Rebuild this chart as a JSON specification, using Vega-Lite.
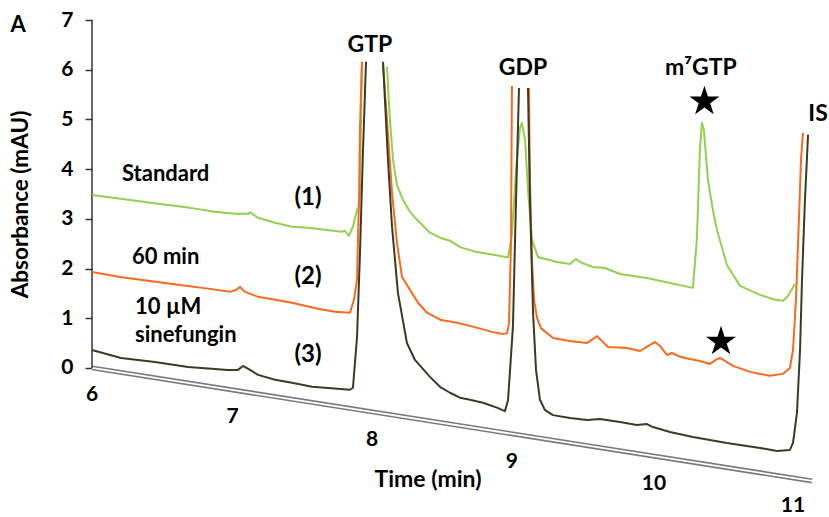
{
  "$schema": "https://vega.github.io/schema/vega-lite/v6.json",
  "width": 728,
  "height": 497,
  "autosize": {"type": "none"},
  "padding": {"left": 92, "top": 20, "right": 9, "bottom": 0},
  "background": "white",
  "config": {"view": {"stroke": null}, "font": "Lato"},
  "datasets": {
    "floor": [{"t": 6, "a": 0}, {"t": 11.121, "a": -2.274}],
    "traces": [
      {"s": "1", "g": "1a", "t": 6.000, "a": 3.48},
      {"s": "1", "g": "1a", "t": 6.270, "a": 3.38},
      {"s": "1", "g": "1a", "t": 6.484, "a": 3.30},
      {"s": "1", "g": "1a", "t": 6.697, "a": 3.22},
      {"s": "1", "g": "1a", "t": 6.875, "a": 3.14},
      {"s": "1", "g": "1a", "t": 7.017, "a": 3.10},
      {"s": "1", "g": "1a", "t": 7.110, "a": 3.10},
      {"s": "1", "g": "1a", "t": 7.124, "a": 3.13},
      {"s": "1", "g": "1a", "t": 7.181, "a": 3.02},
      {"s": "1", "g": "1a", "t": 7.302, "a": 2.92},
      {"s": "1", "g": "1a", "t": 7.422, "a": 2.84},
      {"s": "1", "g": "1a", "t": 7.536, "a": 2.82},
      {"s": "1", "g": "1a", "t": 7.657, "a": 2.78},
      {"s": "1", "g": "1a", "t": 7.778, "a": 2.74},
      {"s": "1", "g": "1a", "t": 7.799, "a": 2.76},
      {"s": "1", "g": "1a", "t": 7.814, "a": 2.70},
      {"s": "1", "g": "1a", "t": 7.828, "a": 2.66},
      {"s": "1", "g": "1a", "t": 7.856, "a": 2.84},
      {"s": "1", "g": "1a", "t": 7.885, "a": 3.18},
      {"s": "1", "g": "1a", "t": 7.899, "a": 3.24},
      {"s": "1", "g": "1a", "t": 7.906, "a": 3.58},
      {"s": "1", "g": "1a", "t": 7.913, "a": 4.99},
      {"s": "1", "g": "1a", "t": 7.920, "a": 6.16},
      {"s": "1", "g": "1b", "t": 8.098, "a": 6.06},
      {"s": "1", "g": "1b", "t": 8.119, "a": 4.99},
      {"s": "1", "g": "1b", "t": 8.141, "a": 4.19},
      {"s": "1", "g": "1b", "t": 8.169, "a": 3.68},
      {"s": "1", "g": "1b", "t": 8.212, "a": 3.38},
      {"s": "1", "g": "1b", "t": 8.262, "a": 3.14},
      {"s": "1", "g": "1b", "t": 8.312, "a": 2.98},
      {"s": "1", "g": "1b", "t": 8.404, "a": 2.72},
      {"s": "1", "g": "1b", "t": 8.475, "a": 2.62},
      {"s": "1", "g": "1b", "t": 8.546, "a": 2.56},
      {"s": "1", "g": "1b", "t": 8.617, "a": 2.43},
      {"s": "1", "g": "1b", "t": 8.738, "a": 2.33},
      {"s": "1", "g": "1b", "t": 8.866, "a": 2.27},
      {"s": "1", "g": "1b", "t": 8.959, "a": 2.22},
      {"s": "1", "g": "1b", "t": 8.987, "a": 2.68},
      {"s": "1", "g": "1b", "t": 9.016, "a": 3.98},
      {"s": "1", "g": "1b", "t": 9.044, "a": 4.83},
      {"s": "1", "g": "1b", "t": 9.058, "a": 4.93},
      {"s": "1", "g": "1b", "t": 9.080, "a": 4.59},
      {"s": "1", "g": "1b", "t": 9.101, "a": 3.58},
      {"s": "1", "g": "1b", "t": 9.129, "a": 2.58},
      {"s": "1", "g": "1b", "t": 9.172, "a": 2.23},
      {"s": "1", "g": "1b", "t": 9.307, "a": 2.13},
      {"s": "1", "g": "1b", "t": 9.400, "a": 2.09},
      {"s": "1", "g": "1b", "t": 9.442, "a": 2.19},
      {"s": "1", "g": "1b", "t": 9.485, "a": 2.11},
      {"s": "1", "g": "1b", "t": 9.563, "a": 2.03},
      {"s": "1", "g": "1b", "t": 9.649, "a": 2.01},
      {"s": "1", "g": "1b", "t": 9.755, "a": 1.89},
      {"s": "1", "g": "1b", "t": 9.947, "a": 1.81},
      {"s": "1", "g": "1b", "t": 10.111, "a": 1.71},
      {"s": "1", "g": "1b", "t": 10.274, "a": 1.61},
      {"s": "1", "g": "1b", "t": 10.302, "a": 2.58},
      {"s": "1", "g": "1b", "t": 10.324, "a": 4.39},
      {"s": "1", "g": "1b", "t": 10.338, "a": 4.93},
      {"s": "1", "g": "1b", "t": 10.352, "a": 4.79},
      {"s": "1", "g": "1b", "t": 10.381, "a": 3.78},
      {"s": "1", "g": "1b", "t": 10.416, "a": 3.18},
      {"s": "1", "g": "1b", "t": 10.445, "a": 2.78},
      {"s": "1", "g": "1b", "t": 10.516, "a": 2.07},
      {"s": "1", "g": "1b", "t": 10.609, "a": 1.65},
      {"s": "1", "g": "1b", "t": 10.751, "a": 1.47},
      {"s": "1", "g": "1b", "t": 10.858, "a": 1.37},
      {"s": "1", "g": "1b", "t": 10.915, "a": 1.35},
      {"s": "1", "g": "1b", "t": 10.950, "a": 1.45},
      {"s": "1", "g": "1b", "t": 11.000, "a": 1.69},

      {"s": "2", "g": "2a", "t": 6.000, "a": 1.93},
      {"s": "2", "g": "2a", "t": 6.199, "a": 1.83},
      {"s": "2", "g": "2a", "t": 6.413, "a": 1.75},
      {"s": "2", "g": "2a", "t": 6.626, "a": 1.67},
      {"s": "2", "g": "2a", "t": 6.839, "a": 1.59},
      {"s": "2", "g": "2a", "t": 6.981, "a": 1.53},
      {"s": "2", "g": "2a", "t": 7.024, "a": 1.57},
      {"s": "2", "g": "2a", "t": 7.053, "a": 1.63},
      {"s": "2", "g": "2a", "t": 7.088, "a": 1.53},
      {"s": "2", "g": "2a", "t": 7.181, "a": 1.43},
      {"s": "2", "g": "2a", "t": 7.302, "a": 1.37},
      {"s": "2", "g": "2a", "t": 7.422, "a": 1.31},
      {"s": "2", "g": "2a", "t": 7.607, "a": 1.19},
      {"s": "2", "g": "2a", "t": 7.728, "a": 1.13},
      {"s": "2", "g": "2a", "t": 7.835, "a": 1.11},
      {"s": "2", "g": "2a", "t": 7.863, "a": 1.37},
      {"s": "2", "g": "2a", "t": 7.885, "a": 1.77},
      {"s": "2", "g": "2a", "t": 7.899, "a": 3.38},
      {"s": "2", "g": "2a", "t": 7.906, "a": 4.79},
      {"s": "2", "g": "2a", "t": 7.920, "a": 6.16},
      {"s": "2", "g": "2b", "t": 8.070, "a": 6.10},
      {"s": "2", "g": "2b", "t": 8.098, "a": 4.99},
      {"s": "2", "g": "2b", "t": 8.134, "a": 3.52},
      {"s": "2", "g": "2b", "t": 8.169, "a": 2.52},
      {"s": "2", "g": "2b", "t": 8.205, "a": 1.83},
      {"s": "2", "g": "2b", "t": 8.262, "a": 1.57},
      {"s": "2", "g": "2b", "t": 8.319, "a": 1.31},
      {"s": "2", "g": "2b", "t": 8.383, "a": 1.11},
      {"s": "2", "g": "2b", "t": 8.475, "a": 0.97},
      {"s": "2", "g": "2b", "t": 8.596, "a": 0.91},
      {"s": "2", "g": "2b", "t": 8.709, "a": 0.83},
      {"s": "2", "g": "2b", "t": 8.852, "a": 0.72},
      {"s": "2", "g": "2b", "t": 8.923, "a": 0.68},
      {"s": "2", "g": "2b", "t": 8.952, "a": 0.70},
      {"s": "2", "g": "2b", "t": 8.966, "a": 0.90},
      {"s": "2", "g": "2b", "t": 8.980, "a": 2.50},
      {"s": "2", "g": "2b", "t": 8.987, "a": 5.67},
      {"s": "2", "g": "2c", "t": 9.108, "a": 5.63},
      {"s": "2", "g": "2c", "t": 9.115, "a": 3.78},
      {"s": "2", "g": "2c", "t": 9.129, "a": 2.17},
      {"s": "2", "g": "2c", "t": 9.144, "a": 1.37},
      {"s": "2", "g": "2c", "t": 9.165, "a": 1.01},
      {"s": "2", "g": "2c", "t": 9.193, "a": 0.80},
      {"s": "2", "g": "2c", "t": 9.279, "a": 0.60},
      {"s": "2", "g": "2c", "t": 9.400, "a": 0.54},
      {"s": "2", "g": "2c", "t": 9.521, "a": 0.50},
      {"s": "2", "g": "2c", "t": 9.592, "a": 0.64},
      {"s": "2", "g": "2c", "t": 9.670, "a": 0.42},
      {"s": "2", "g": "2c", "t": 9.805, "a": 0.40},
      {"s": "2", "g": "2c", "t": 9.898, "a": 0.34},
      {"s": "2", "g": "2c", "t": 9.954, "a": 0.44},
      {"s": "2", "g": "2c", "t": 10.004, "a": 0.52},
      {"s": "2", "g": "2c", "t": 10.040, "a": 0.44},
      {"s": "2", "g": "2c", "t": 10.090, "a": 0.26},
      {"s": "2", "g": "2c", "t": 10.125, "a": 0.30},
      {"s": "2", "g": "2c", "t": 10.168, "a": 0.24},
      {"s": "2", "g": "2c", "t": 10.218, "a": 0.20},
      {"s": "2", "g": "2c", "t": 10.324, "a": 0.14},
      {"s": "2", "g": "2c", "t": 10.395, "a": 0.08},
      {"s": "2", "g": "2c", "t": 10.437, "a": 0.16},
      {"s": "2", "g": "2c", "t": 10.467, "a": 0.20},
      {"s": "2", "g": "2c", "t": 10.559, "a": 0.04},
      {"s": "2", "g": "2c", "t": 10.680, "a": -0.08},
      {"s": "2", "g": "2c", "t": 10.822, "a": -0.16},
      {"s": "2", "g": "2c", "t": 10.915, "a": -0.12},
      {"s": "2", "g": "2c", "t": 10.964, "a": 0.00},
      {"s": "2", "g": "2c", "t": 10.986, "a": 0.36},
      {"s": "2", "g": "2c", "t": 11.007, "a": 1.37},
      {"s": "2", "g": "2c", "t": 11.028, "a": 2.98},
      {"s": "2", "g": "2c", "t": 11.043, "a": 4.19},
      {"s": "2", "g": "2c", "t": 11.057, "a": 4.73},

      {"s": "3", "g": "3a", "t": 6.000, "a": 0.36},
      {"s": "3", "g": "3a", "t": 6.206, "a": 0.20},
      {"s": "3", "g": "3a", "t": 6.448, "a": 0.12},
      {"s": "3", "g": "3a", "t": 6.683, "a": 0.02},
      {"s": "3", "g": "3a", "t": 6.967, "a": -0.04},
      {"s": "3", "g": "3a", "t": 7.038, "a": -0.04},
      {"s": "3", "g": "3a", "t": 7.074, "a": 0.04},
      {"s": "3", "g": "3a", "t": 7.124, "a": -0.04},
      {"s": "3", "g": "3a", "t": 7.181, "a": -0.14},
      {"s": "3", "g": "3a", "t": 7.302, "a": -0.24},
      {"s": "3", "g": "3a", "t": 7.422, "a": -0.30},
      {"s": "3", "g": "3a", "t": 7.565, "a": -0.38},
      {"s": "3", "g": "3a", "t": 7.657, "a": -0.40},
      {"s": "3", "g": "3a", "t": 7.835, "a": -0.44},
      {"s": "3", "g": "3a", "t": 7.856, "a": -0.40},
      {"s": "3", "g": "3a", "t": 7.885, "a": 0.62},
      {"s": "3", "g": "3a", "t": 7.906, "a": 2.31},
      {"s": "3", "g": "3a", "t": 7.927, "a": 4.33},
      {"s": "3", "g": "3a", "t": 7.949, "a": 6.16},
      {"s": "3", "g": "3b", "t": 8.070, "a": 6.16},
      {"s": "3", "g": "3b", "t": 8.105, "a": 4.19},
      {"s": "3", "g": "3b", "t": 8.134, "a": 2.84},
      {"s": "3", "g": "3b", "t": 8.176, "a": 1.51},
      {"s": "3", "g": "3b", "t": 8.240, "a": 0.50},
      {"s": "3", "g": "3b", "t": 8.297, "a": 0.16},
      {"s": "3", "g": "3b", "t": 8.404, "a": -0.18},
      {"s": "3", "g": "3b", "t": 8.475, "a": -0.38},
      {"s": "3", "g": "3b", "t": 8.546, "a": -0.50},
      {"s": "3", "g": "3b", "t": 8.617, "a": -0.60},
      {"s": "3", "g": "3b", "t": 8.688, "a": -0.64},
      {"s": "3", "g": "3b", "t": 8.781, "a": -0.70},
      {"s": "3", "g": "3b", "t": 8.880, "a": -0.80},
      {"s": "3", "g": "3b", "t": 8.937, "a": -0.87},
      {"s": "3", "g": "3b", "t": 8.959, "a": -0.65},
      {"s": "3", "g": "3b", "t": 8.994, "a": 0.83},
      {"s": "3", "g": "3b", "t": 9.016, "a": 3.38},
      {"s": "3", "g": "3b", "t": 9.037, "a": 5.63},
      {"s": "3", "g": "3c", "t": 9.101, "a": 5.63},
      {"s": "3", "g": "3c", "t": 9.115, "a": 3.38},
      {"s": "3", "g": "3c", "t": 9.137, "a": 1.11},
      {"s": "3", "g": "3c", "t": 9.158, "a": -0.04},
      {"s": "3", "g": "3c", "t": 9.186, "a": -0.64},
      {"s": "3", "g": "3c", "t": 9.222, "a": -0.85},
      {"s": "3", "g": "3c", "t": 9.279, "a": -0.95},
      {"s": "3", "g": "3c", "t": 9.400, "a": -1.01},
      {"s": "3", "g": "3c", "t": 9.521, "a": -1.05},
      {"s": "3", "g": "3c", "t": 9.613, "a": -1.03},
      {"s": "3", "g": "3c", "t": 9.755, "a": -1.09},
      {"s": "3", "g": "3c", "t": 9.876, "a": -1.15},
      {"s": "3", "g": "3c", "t": 9.947, "a": -1.13},
      {"s": "3", "g": "3c", "t": 9.990, "a": -1.19},
      {"s": "3", "g": "3c", "t": 10.111, "a": -1.29},
      {"s": "3", "g": "3c", "t": 10.274, "a": -1.39},
      {"s": "3", "g": "3c", "t": 10.516, "a": -1.51},
      {"s": "3", "g": "3c", "t": 10.751, "a": -1.61},
      {"s": "3", "g": "3c", "t": 10.872, "a": -1.67},
      {"s": "3", "g": "3c", "t": 10.964, "a": -1.65},
      {"s": "3", "g": "3c", "t": 10.986, "a": -1.51},
      {"s": "3", "g": "3c", "t": 11.014, "a": -0.91},
      {"s": "3", "g": "3c", "t": 11.036, "a": 0.36},
      {"s": "3", "g": "3c", "t": 11.050, "a": 1.77},
      {"s": "3", "g": "3c", "t": 11.071, "a": 3.38},
      {"s": "3", "g": "3c", "t": 11.093, "a": 4.69}
    ],
    "peaks": [
      {"t": 7.977, "a": 6.50, "label": "GTP"},
      {"t": 9.065, "a": 6.04, "label": "GDP"},
      {"t": 10.331, "a": 6.04, "label": "m⁷GTP"},
      {"t": 11.164, "a": 5.11, "label": "IS"}
    ],
    "notes": [
      {"t": 6.213, "a": 3.90, "label": "Standard"},
      {"t": 6.285, "a": 2.23, "label": "60 min"},
      {"t": 6.306, "a": 1.23, "label": "10 µM"},
      {"t": 6.306, "a": 0.66, "label": "sinefungin"}
    ],
    "nums": [
      {"t": 7.536, "a": 3.42, "label": "(1)"},
      {"t": 7.536, "a": 1.83, "label": "(2)"},
      {"t": 7.536, "a": 0.26, "label": "(3)"}
    ],
    "stars": [
      {"t": 10.356, "a": 5.36},
      {"t": 10.474, "a": 0.53}
    ],
    "xticks": [
      {"t": 6.0, "a": -0.54, "label": "6"},
      {"t": 7.0, "a": -0.99, "label": "7"},
      {"t": 7.993, "a": -1.45, "label": "8"},
      {"t": 8.987, "a": -1.89, "label": "9"},
      {"t": 9.997, "a": -2.33, "label": "10"},
      {"t": 10.986, "a": -2.78, "label": "11"}
    ],
    "xtitle": [{"t": 8.390, "a": -2.25, "label": "Time (min)"}],
    "panel": [{"t": 5.474, "a": 6.90, "label": "A"}],
    "yline": [{"t": 6, "a": 0, "a2": 7}]
  },
  "layer": [
    {
      "data": {"name": "floor"},
      "mark": {"type": "line", "color": "#7a7a7a", "strokeWidth": 5, "strokeCap": "butt"},
      "encoding": {
        "x": {"field": "t", "type": "quantitative", "scale": {"domain": [6, 11.178], "nice": false, "zero": false}, "axis": null},
        "y": {"field": "a", "type": "quantitative", "scale": {"domain": [-3, 7], "nice": false, "zero": false},
          "axis": {"values": [0, 1, 2, 3, 4, 5, 6, 7], "domain": false, "grid": false, "tickSize": 7, "tickColor": "#333333", "tickWidth": 1.5,
            "labelFont": "Lato", "labelFontSize": 21, "labelFontWeight": "bold", "labelColor": "#000000", "labelPadding": 12,
            "title": "Absorbance (mAU)", "titleFont": "Lato", "titleFontSize": 22.5, "titleFontWeight": "bold", "titleColor": "#000000",
            "titleX": -72, "titleY": 184, "titleAngle": -90, "titleAlign": "center", "titleBaseline": "middle"}}
      }
    },
    {
      "data": {"name": "floor"},
      "mark": {"type": "line", "color": "#ffffff", "strokeWidth": 1.8, "strokeCap": "butt"},
      "encoding": {"x": {"field": "t", "type": "quantitative"}, "y": {"field": "a", "type": "quantitative"}}
    },
    {
      "data": {"name": "yline"},
      "mark": {"type": "rule", "color": "#333333", "strokeWidth": 1.5},
      "encoding": {"x": {"field": "t", "type": "quantitative"}, "y": {"field": "a", "type": "quantitative"}, "y2": {"field": "a2"}}
    },
    {
      "data": {"name": "traces"},
      "mark": {"type": "line", "strokeWidth": 2, "strokeJoin": "round"},
      "encoding": {
        "x": {"field": "t", "type": "quantitative"},
        "y": {"field": "a", "type": "quantitative"},
        "color": {"field": "s", "type": "nominal", "scale": {"domain": ["1", "2", "3"], "range": ["#92D050", "#FA6A1E", "#3D3A24"]}, "legend": null},
        "detail": {"field": "g"}
      }
    },
    {
      "data": {"name": "peaks"},
      "mark": {"type": "text", "font": "Lato", "fontSize": 23, "fontWeight": "bold", "color": "#000000", "align": "center", "baseline": "middle"},
      "encoding": {"x": {"field": "t", "type": "quantitative"}, "y": {"field": "a", "type": "quantitative"}, "text": {"field": "label"}}
    },
    {
      "data": {"name": "notes"},
      "mark": {"type": "text", "font": "Lato", "fontSize": 22, "fontWeight": "bold", "color": "#000000", "align": "left", "baseline": "middle"},
      "encoding": {"x": {"field": "t", "type": "quantitative"}, "y": {"field": "a", "type": "quantitative"}, "text": {"field": "label"}}
    },
    {
      "data": {"name": "nums"},
      "mark": {"type": "text", "font": "Lato", "fontSize": 24, "fontWeight": "bold", "color": "#000000", "align": "center", "baseline": "middle"},
      "encoding": {"x": {"field": "t", "type": "quantitative"}, "y": {"field": "a", "type": "quantitative"}, "text": {"field": "label"}}
    },
    {
      "data": {"name": "stars"},
      "mark": {"type": "point", "shape": "M0,-1L0.2245,-0.309L0.951,-0.309L0.363,0.118L0.588,0.809L0,0.382L-0.588,0.809L-0.363,0.118L-0.951,-0.309L-0.2245,-0.309Z", "filled": true, "color": "#000000", "opacity": 1, "size": 1000},
      "encoding": {"x": {"field": "t", "type": "quantitative"}, "y": {"field": "a", "type": "quantitative"}}
    },
    {
      "data": {"name": "xticks"},
      "mark": {"type": "text", "font": "Lato", "fontSize": 21, "fontWeight": "bold", "color": "#000000", "align": "center", "baseline": "middle"},
      "encoding": {"x": {"field": "t", "type": "quantitative"}, "y": {"field": "a", "type": "quantitative"}, "text": {"field": "label"}}
    },
    {
      "data": {"name": "xtitle"},
      "mark": {"type": "text", "font": "Lato", "fontSize": 23, "fontWeight": "bold", "color": "#000000", "align": "center", "baseline": "middle"},
      "encoding": {"x": {"field": "t", "type": "quantitative"}, "y": {"field": "a", "type": "quantitative"}, "text": {"field": "label"}}
    },
    {
      "data": {"name": "panel"},
      "mark": {"type": "text", "font": "Lato", "fontSize": 22, "fontWeight": "bold", "color": "#000000", "align": "center", "baseline": "middle"},
      "encoding": {"x": {"field": "t", "type": "quantitative"}, "y": {"field": "a", "type": "quantitative"}, "text": {"field": "label"}}
    }
  ]
}
